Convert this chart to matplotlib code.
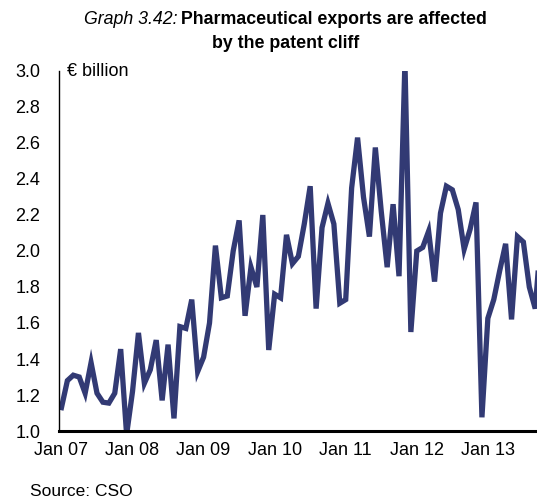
import numpy as np
import matplotlib
matplotlib.use('Agg')
import matplotlib.pyplot as plt

plt.rcParams['font.family'] = ['Liberation Sans', 'DejaVu Sans']

# monthly exports, Jan 07 onwards (EUR billion)
exports = [1.13, 1.28, 1.31, 1.30, 1.21, 1.38, 1.21, 1.16, 1.155, 1.21, 1.455, 0.98,
           1.22, 1.545, 1.265, 1.34, 1.505, 1.17, 1.48, 1.07, 1.58, 1.57, 1.73, 1.33,
           1.41, 1.60, 2.03, 1.74, 1.75, 2.00, 2.17, 1.64, 1.91, 1.80, 2.20, 1.45,
           1.76, 1.74, 2.09, 1.93, 1.97, 2.15, 2.36, 1.68, 2.13, 2.265, 2.15, 1.71,
           1.73, 2.35, 2.63, 2.30, 2.08, 2.575, 2.22, 1.91, 2.26, 1.86, 3.05, 1.55,
           2.00, 2.02, 2.11, 1.83, 2.21, 2.36, 2.34, 2.23, 2.01, 2.12, 2.27, 1.076,
           1.626, 1.73, 1.89, 2.04, 1.62, 2.08, 2.05, 1.80, 1.68, 2.10]
tick_pos = [0, 12, 24, 36, 48, 60, 72]
tick_labels = ['Jan 07', 'Jan 08', 'Jan 09', 'Jan 10', 'Jan 11', 'Jan 12', 'Jan 13']
y_ticks = [1.0, 1.2, 1.4, 1.6, 1.8, 2.0, 2.2, 2.4, 2.6, 2.8, 3.0]

W, H = 537, 499
fig = plt.figure(figsize=(W / 100, H / 100), dpi=100)
ax = fig.add_axes([58.5 / W, 1 - 431 / H, 1 - 58.5 / W, (431 - 71) / H])

ax.plot(np.arange(len(exports)), exports, color='#323a74', lw=3.8,
        solid_joinstyle='miter')
ax.set_xlim(-0.5, 80.3)
ax.set_ylim(1.0, 3.0)
ax.set_xticks(tick_pos)
ax.set_xticklabels(tick_labels)
ax.set_yticks(y_ticks)
ax.set_yticklabels(['%.1f' % v for v in y_ticks])
ax.tick_params(axis='both', length=0, labelsize=13)
ax.tick_params(axis='y', pad=13)
ax.tick_params(axis='x', pad=8)
for s in ['top', 'right']:
    ax.spines[s].set_visible(False)
ax.spines['left'].set_linewidth(1.0)
ax.spines['bottom'].set_linewidth(2.2)

fig.text(67 / W, 1 - 71 / H, '€ billion', fontsize=13, va='center', ha='left')
fig.text(30 / W, 1 - 492 / H, 'Source: CSO', fontsize=12.5, va='center', ha='left')

# title: italic prefix + bold text, centred as one line
cx = 285.5
t1 = fig.text(0, 1 - 20 / H, 'Graph 3.42:', style='italic', fontsize=12.8, va='center')
t2 = fig.text(0, 1 - 20 / H, 'Pharmaceutical exports are affected', weight='bold',
              fontsize=12.8, va='center')
fig.text(cx / W, 1 - 44 / H, 'by the patent cliff', weight='bold', fontsize=12.8,
         va='center', ha='center')
fig.canvas.draw()
r = fig.canvas.get_renderer()
w1 = t1.get_window_extent(r).width
w2 = t2.get_window_extent(r).width
gap = 4
x0 = cx - (w1 + gap + w2) / 2
t1.set_x(x0 / W)
t2.set_x((x0 + w1 + gap) / W)

fig.savefig('out.png', dpi=100)
